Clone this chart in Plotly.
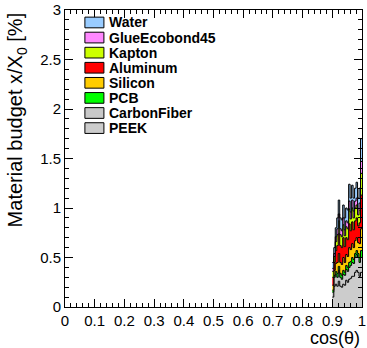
import plotly.graph_objects as go

bin_low = [0.900, 0.905, 0.910, 0.915, 0.920, 0.925, 0.930, 0.935, 0.940, 0.945,
           0.950, 0.955, 0.960, 0.965, 0.970, 0.975, 0.980, 0.985, 0.990, 0.995]
bin_width = 0.005

peek = [0.10, 0.21, 0.23, 0.21, 0.26, 0.21, 0.20, 0.23, 0.22, 0.27, 0.25, 0.28, 0.29, 0.31, 0.31, 0.35, 0.37, 0.35, 0.31, 0.35]
carbon = [0.05, 0.09, 0.10, 0.09, 0.11, 0.09, 0.08, 0.10, 0.10, 0.11, 0.11, 0.12, 0.13, 0.14, 0.13, 0.15, 0.16, 0.15, 0.14, 0.15]
pcb = [0.02, 0.02, 0.03, 0.04, 0.04, 0.04, 0.04, 0.04, 0.03, 0.04, 0.04, 0.05, 0.04, 0.05, 0.04, 0.04, 0.04, 0.04, 0.05, 0.07]
silicon = [0.05, 0.05, 0.08, 0.11, 0.13, 0.11, 0.11, 0.13, 0.10, 0.11, 0.11, 0.15, 0.12, 0.14, 0.12, 0.13, 0.13, 0.11, 0.14, 0.22]
aluminum = [0.08, 0.08, 0.13, 0.17, 0.20, 0.17, 0.17, 0.20, 0.16, 0.17, 0.17, 0.24, 0.19, 0.22, 0.18, 0.20, 0.20, 0.17, 0.21, 0.34]
kapton = [0.06, 0.06, 0.09, 0.11, 0.13, 0.11, 0.11, 0.13, 0.11, 0.11, 0.11, 0.15, 0.12, 0.14, 0.12, 0.13, 0.13, 0.11, 0.13, 0.22]
glue = [0.03, 0.03, 0.05, 0.06, 0.07, 0.06, 0.06, 0.07, 0.06, 0.06, 0.06, 0.08, 0.07, 0.08, 0.07, 0.07, 0.07, 0.06, 0.07, 0.12]
water = [0.06, 0.06, 0.09, 0.11, 0.14, 0.11, 0.11, 0.13, 0.12, 0.13, 0.13, 0.17, 0.14, 0.15, 0.13, 0.13, 0.16, 0.11, 0.15, 0.23]

x_tick_vals = [0, 0.1, 0.2, 0.3, 0.4, 0.5, 0.6, 0.7, 0.8, 0.9, 1.0]
x_tick_text = ["0", "0.1", "0.2", "0.3", "0.4", "0.5", "0.6", "0.7", "0.8", "0.9", "1"]
y_tick_vals = [0, 0.5, 1.0, 1.5, 2.0, 2.5, 3.0]
y_tick_text = ["0", "0.5", "1", "1.5", "2", "2.5", "3"]

# stacking order bottom -> top
layers = [
    ("PEEK", peek, "#cccccc"),
    ("CarbonFiber", carbon, "#c8c8c8"),
    ("PCB", pcb, "#00ff00"),
    ("Silicon", silicon, "#ffcc00"),
    ("Aluminum", aluminum, "#ff0000"),
    ("Kapton", kapton, "#ccff00"),
    ("GlueEcobond45", glue, "#ff88ff"),
    ("Water", water, "#99ccff"),
]

x_steps = bin_low + [bin_low[-1] + bin_width]

fig = go.Figure()
for name, vals, col in layers:
    y_steps = vals + [vals[-1]]
    fig.add_trace(go.Scatter(
        x=x_steps, y=y_steps, name=name, stackgroup="one",
        mode="lines", line=dict(color="black", width=1, shape="hv"),
        fillcolor=col, showlegend=False,
    ))

FONT = "Liberation Sans, Arial, Helvetica"

# ROOT-style legend built from annotations + boxes
legend_order = ["Water", "GlueEcobond45", "Kapton", "Aluminum", "Silicon", "PCB", "CarbonFiber", "PEEK"]
colmap = {n: c for n, _, c in layers}
shapes = []
annotations = []
y0 = 0.958
dy = 0.0508
for i, n in enumerate(legend_order):
    yc = y0 - i * dy
    shapes.append(dict(type="rect", xref="paper", yref="paper",
                       x0=0.067, x1=0.131, y0=yc - 0.018, y1=yc + 0.018,
                       fillcolor=colmap[n], line=dict(color="black", width=1)))
    annotations.append(dict(text="<b>%s</b>" % n, xref="paper", yref="paper",
                            x=0.143, y=yc, xanchor="left", yanchor="middle",
                            showarrow=False,
                            font=dict(family=FONT, size=14, color="black")))

annotations.append(dict(text="Material budget x/X<sub>0</sub> [%]", xref="paper", yref="paper",
                        x=-0.162, y=1.0, xanchor="center", yanchor="top", textangle=-90,
                        showarrow=False,
                        font=dict(family=FONT, size=20, color="black")))
annotations.append(dict(text="cos(θ)", xref="paper", yref="paper",
                        x=1.0, y=-0.104, xanchor="right", yanchor="middle",
                        showarrow=False,
                        font=dict(family=FONT, size=18, color="black")))

fig.update_layout(
    width=367, height=348,
    margin=dict(l=65, r=5, t=10, b=41, autoexpand=False),
    paper_bgcolor="white", plot_bgcolor="white",
    shapes=shapes, annotations=annotations,
    font=dict(family=FONT, size=15, color="black"),
)
fig.update_xaxes(range=[0, 1], tickvals=x_tick_vals, ticktext=x_tick_text,
                 ticks="inside", ticklen=8, tickcolor="black", automargin=False,
                 ticklabeloverflow="allow",
                 showline=True, linecolor="black", linewidth=1, mirror="allticks",
                 showgrid=False, zeroline=False,
                 minor=dict(ticks="inside", dtick=0.02, tick0=0, ticklen=4, tickcolor="black", showgrid=False))
fig.update_yaxes(range=[0, 3], tickvals=y_tick_vals, ticktext=y_tick_text,
                 ticks="inside", ticklen=8, tickcolor="black", automargin=False,
                 ticklabeloverflow="allow",
                 showline=True, linecolor="black", linewidth=1, mirror="allticks",
                 showgrid=False, zeroline=False,
                 minor=dict(ticks="inside", dtick=0.1, tick0=0, ticklen=4, tickcolor="black", showgrid=False))

# remove the browser's default 8px body margin so the figure fills the window
fig.write_html("out.html", config={"displayModeBar": False},
               post_script="document.body.style.margin='0';")
